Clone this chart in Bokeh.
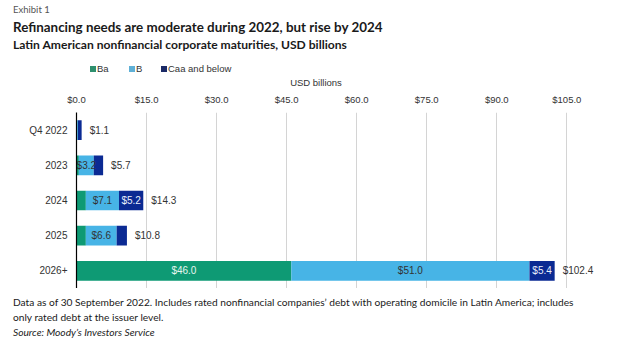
from bokeh.plotting import figure
from bokeh.layouts import column
from bokeh.models import (ColumnDataSource, FactorRange, Range1d, NumeralTickFormatter,
                          FixedTicker, Div)
from bokeh.core.properties import value
from bokeh.embed import file_html
from bokeh.resources import INLINE

# ---- data ----
categories = ["Q4 2022", "2023", "2024", "2025", "2026+"]
ba = [0.0, 0.5, 2.0, 2.0, 46.0]
b = [0.3, 3.2, 7.1, 6.6, 51.0]
caa = [0.8, 2.0, 5.2, 2.2, 5.4]
totals = [1.1, 5.7, 14.3, 10.8, 102.4]
series_names = ["Ba", "B", "Caa and below"]
x_ticks = [0, 15, 30, 45, 60, 75, 90, 105]

exhibit = "Exhibit 1"
title = "Refinancing needs are moderate during 2022, but rise by 2024"
subtitle = "Latin American nonfinancial corporate maturities, USD billions"
axis_title = "USD billions"
notes = ["Data as of 30 September 2022. Includes rated nonfinancial companies\u2019 debt with operating domicile in Latin America; includes",
         "only rated debt at the issuer level."]
source_note = "Source: Moody\u2019s Investors Service"

colors = ["#0e9a74", "#47b4e6", "#0b2a93"]
legend_colors = ["#2e8f6e", "#5fb0d6", "#1b2a66"]
label_colors = ["#e6f5ef", "#333333", "#e8eefc"]

FONT = "Liberation Sans"
TFONT = "Lato"
W = 640
HEAD_H = 90
MAIN_H = 198
FOOT_H = 76


def line(text, left, top, size, lh, color="#1a1a1a", weight="normal", style="normal",
         font=TFONT, extra=""):
    return ('<div style="position:absolute;left:%spx;top:%spx;font-family:\'%s\';'
            'font-size:%s;line-height:%spx;color:%s;font-weight:%s;font-style:%s;'
            'white-space:nowrap;%s">%s</div>' % (left, top, font, size, lh, color,
                                                 weight, style, extra, text))


# ---------- header ----------
leg_left = [90, 129, 161]
parts = [line(exhibit, 13, 4, "9.5px", 12, color="#555555"),
         line(title, 13, 18.5, "13.4px", 16, weight="bold"),
         line(subtitle, 13, 38, "12.1px", 14, weight="bold")]
for name, col, lx in zip(series_names, legend_colors, leg_left):
    sq = ('<span style="display:inline-block;width:6px;height:6px;background:%s;'
          'margin-right:1px;vertical-align:0px"></span>' % col)
    parts.append(line(sq + name, lx, 63, "9.5px", 12, color="#333333", font=FONT))
parts.append(line(axis_title, 216, 77, "9.5px", 12, color="#333333", font=FONT,
                  extra="width:200px;text-align:center"))
head = Div(text='<div style="position:relative;width:%dpx;height:%dpx">%s</div>'
           % (W, HEAD_H, "".join(parts)), width=W, height=HEAD_H, margin=0)

# ---------- main chart ----------
src = ColumnDataSource(dict(cat=categories, ba=ba, b=b, caa=caa))

p = figure(width=W, height=MAIN_H, output_backend="svg", toolbar_location=None,
           y_range=FactorRange(factors=list(reversed(categories))),
           x_range=Range1d(0, 112), x_axis_location="above",
           min_border_left=76, min_border_right=41, min_border_top=19,
           min_border_bottom=0)
p.outline_line_color = None

p.hbar_stack(["ba", "b", "caa"], y="cat", height=0.56, color=colors,
             line_width=0, source=src)

seg_x, seg_y, seg_t, seg_c = [], [], [], []
for i, cat in enumerate(categories):
    left = 0.0
    for vals, col in zip([ba, b, caa], label_colors):
        v = vals[i]
        if v >= 3:
            seg_x.append(left + v / 2)
            seg_y.append(cat)
            seg_t.append("$%.1f" % v)
            seg_c.append(col)
        left += v
seg_src = ColumnDataSource(dict(x=seg_x, y=seg_y, t=seg_t, c=seg_c))
p.text(x="x", y="y", text="t", text_color="c", source=seg_src,
       text_align="center", text_baseline="middle", text_font=value(FONT),
       text_font_size="10px")

tot_src = ColumnDataSource(dict(x=totals, y=categories,
                                t=["$%.1f" % v for v in totals]))
p.text(x="x", y="y", text="t", source=tot_src, x_offset=8,
       text_align="left", text_baseline="middle", text_font=value(FONT),
       text_font_size="10px", text_color="#333333")

xa = p.xaxis[0]
xa.ticker = FixedTicker(ticks=x_ticks)
xa.formatter = NumeralTickFormatter(format="$0.0")
xa.axis_line_color = None
xa.major_tick_line_color = None
xa.minor_tick_line_color = None
xa.major_tick_out = 0
xa.minor_tick_out = 0
xa.major_label_text_font = FONT
xa.major_label_text_font_size = "9.5px"
xa.major_label_text_color = "#333333"
xa.major_label_standoff = 8

ya = p.yaxis[0]
ya.axis_line_color = "#000000"
ya.axis_line_width = 1.2
ya.major_tick_line_color = None
ya.minor_tick_line_color = None
ya.major_tick_out = 0
ya.minor_tick_out = 0
ya.major_label_text_font = FONT
ya.major_label_text_font_size = "10px"
ya.major_label_text_color = "#333333"
ya.major_label_standoff = 9

p.xgrid.grid_line_color = "#d4d4d4"
p.ygrid.grid_line_color = None

# ---------- footer ----------
fparts = [line(notes[0], 13, 6.5, "10.2px", 14),
          line(notes[1], 13, 21.5, "10.2px", 14),
          line(source_note, 13, 36.5, "10.2px", 14, style="italic")]
foot = Div(text='<div style="position:relative;width:%dpx;height:%dpx">%s</div>'
           % (W, FOOT_H, "".join(fparts)), width=W, height=FOOT_H, margin=0)

layout = column(head, p, foot, spacing=0)
open("out.html", "w").write(file_html(layout, INLINE))
